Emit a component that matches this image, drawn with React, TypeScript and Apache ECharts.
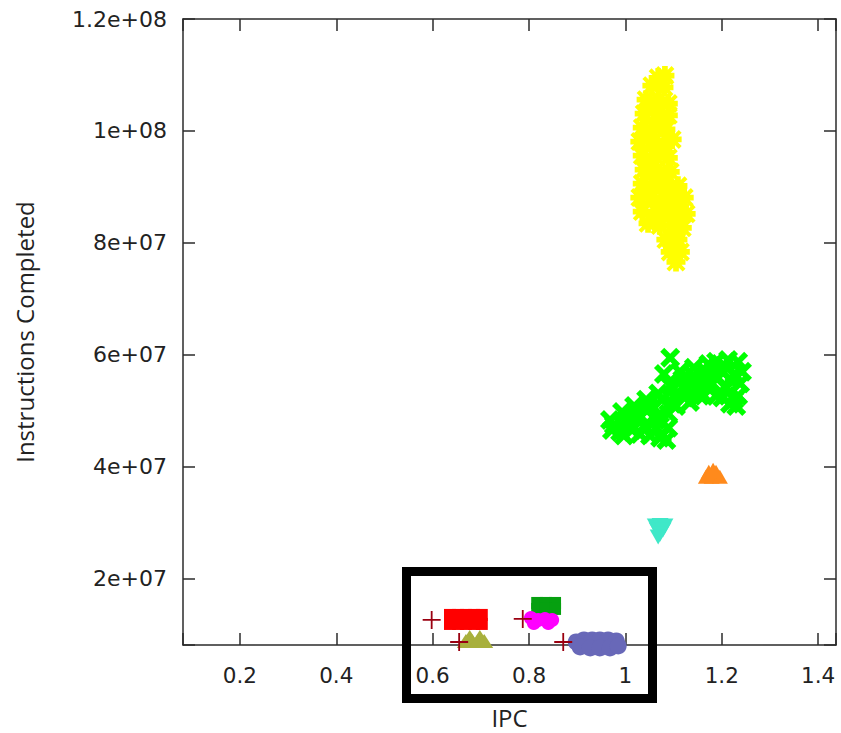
import { useEffect, useRef } from "react";
import * as echarts from "echarts";

// Axis extents and tick labels
const xRange = [0.082, 1.437];
const yRange = [8.2e6, 1.2e8];
const xTicks = [0.2, 0.4, 0.6, 0.8, 1, 1.2, 1.4];
const xTickLabels = ["0.2", "0.4", "0.6", "0.8", "1", "1.2", "1.4"];
const yTicks = [2e7, 4e7, 6e7, 8e7, 1e8, 1.2e8];
const yTickLabels = ["2e+07", "4e+07", "6e+07", "8e+07", "1e+08", "1.2e+08"];

// IPC vs instructions completed, one list per workload
const yellowPts = [
  [1.068, 1.095e8], [1.082, 1.099e8], [1.055, 1.081e8], [1.08, 1.078e8],
  [1.043, 1.056e8], [1.068, 1.056e8], [1.089, 1.049e8], [1.051, 1.045e8],
  [1.039, 1.031e8], [1.064, 1.031e8], [1.089, 1.028e8], [1.076, 1.02e8],
  [1.035, 1.006e8], [1.06, 1.006e8], [1.084, 1.003e8], [1.047, 9.95e7],
  [1.03, 9.81e7], [1.055, 9.81e7], [1.08, 9.77e7], [1.097, 9.85e7], [1.072, 9.67e7],
  [1.035, 9.56e7], [1.06, 9.56e7], [1.089, 9.52e7], [1.047, 9.42e7],
  [1.039, 9.31e7], [1.064, 9.31e7], [1.093, 9.27e7], [1.076, 9.17e7],
  [1.035, 9.06e7], [1.06, 9.06e7], [1.084, 9.06e7], [1.109, 9.02e7],
  [1.047, 8.95e7], [1.093, 8.91e7],
  [1.03, 8.81e7], [1.055, 8.81e7], [1.08, 8.81e7], [1.105, 8.77e7], [1.122, 8.81e7],
  [1.072, 8.67e7],
  [1.035, 8.56e7], [1.064, 8.56e7], [1.089, 8.56e7], [1.113, 8.56e7], [1.126, 8.52e7],
  [1.101, 8.45e7],
  [1.047, 8.35e7], [1.072, 8.31e7], [1.097, 8.31e7], [1.118, 8.27e7],
  [1.105, 8.17e7], [1.084, 8.06e7], [1.109, 8.06e7], [1.101, 7.95e7],
  [1.093, 7.84e7], [1.114, 7.84e7], [1.105, 7.66e7],
];

const greenPts = [
  [0.976, 4.75e7], [1.001, 4.84e7], [1.026, 4.95e7], [1.051, 5.06e7],
  [0.989, 4.63e7], [1.014, 4.66e7], [1.039, 4.73e7], [1.064, 4.84e7], [1.089, 4.95e7],
  [1.051, 4.56e7], [1.076, 4.59e7], [1.089, 4.7e7], [1.072, 4.52e7],
  [1.076, 5.2e7], [1.101, 5.27e7], [1.126, 5.38e7], [1.105, 5.09e7], [1.134, 5.16e7],
  [1.155, 5.27e7], [1.118, 5.56e7], [1.142, 5.63e7], [1.167, 5.7e7], [1.151, 5.45e7],
  [1.18, 5.49e7], [1.093, 5.95e7], [1.08, 5.66e7], [1.163, 5.27e7],
  [1.188, 5.88e7], [1.213, 5.91e7], [1.234, 5.88e7], [1.201, 5.7e7], [1.226, 5.66e7],
  [1.238, 5.49e7], [1.209, 5.41e7], [1.188, 5.27e7], [1.226, 5.2e7], [1.217, 5.13e7],
  [1.03, 4.88e7], [1.01, 4.77e7], [1.064, 4.7e7], [1.072, 4.95e7], [1.097, 5.13e7],
  [1.122, 5.24e7], [1.147, 5.38e7], [1.167, 5.49e7], [1.192, 5.59e7], [1.217, 5.56e7],
  [1.242, 5.7e7], [1.205, 5.81e7], [1.172, 5.84e7], [1.142, 5.77e7], [1.113, 5.7e7],
  [1.093, 5.45e7], [1.068, 5.31e7], [1.043, 5.2e7], [1.018, 5.09e7], [0.993, 4.98e7],
  [0.968, 4.84e7], [0.972, 4.66e7], [0.997, 4.56e7], [1.03, 4.59e7], [1.085, 4.48e7],
  [1.134, 5.56e7], [1.201, 5.24e7], [1.234, 5.27e7], [1.23, 5.09e7],
];

const orangePts = [
  [1.167, 3.823e7], [1.179, 3.823e7], [1.196, 3.823e7],
  [1.173, 3.912e7], [1.188, 3.912e7], [1.182, 3.948e7],
];

const cyanPts = [
  [1.062, 2.947e7], [1.072, 2.955e7], [1.082, 2.947e7], [1.066, 2.876e7],
  [1.078, 2.876e7], [1.072, 2.8e7], [1.068, 2.751e7],
];

const redPts = [
  [0.636, 1.357e7], [0.653, 1.357e7], [0.669, 1.357e7], [0.686, 1.357e7], [0.702, 1.357e7],
  [0.636, 1.196e7], [0.653, 1.196e7], [0.669, 1.196e7], [0.686, 1.196e7], [0.702, 1.196e7],
  [0.644, 1.285e7], [0.677, 1.267e7], [0.694, 1.267e7],
];

const olivePts = [
  [0.669, 8.92e6], [0.682, 8.92e6], [0.694, 8.92e6], [0.707, 8.92e6],
  [0.677, 9.63e6], [0.698, 9.63e6],
];

const darkGreenPts = [
  [0.817, 1.571e7], [0.835, 1.571e7], [0.854, 1.571e7],
  [0.817, 1.464e7], [0.835, 1.464e7], [0.854, 1.464e7],
];

const magentaPts = [
  [0.804, 1.303e7], [0.819, 1.267e7], [0.833, 1.285e7], [0.848, 1.267e7],
  [0.81, 1.214e7], [0.84, 1.214e7],
];

const bluePts = [
  [0.898, 8.74e6], [0.914, 9.1e6], [0.931, 9.1e6], [0.947, 9.1e6], [0.964, 9.1e6],
  [0.981, 8.92e6], [0.906, 7.85e6], [0.927, 7.67e6], [0.947, 7.67e6], [0.968, 7.67e6],
  [0.985, 8.02e6],
];

const startPts = [
  [0.598, 1.267e7], [0.655, 8.74e6], [0.787, 1.285e7], [0.871, 8.74e6],
];

// Point glyphs
const PLUS = "path://M0,9H20V11H0Z M9,0H11V20H9Z";
const CROSS = "path://M0,2L2,0L5,3L8,0L10,2L7,5L10,8L8,10L5,7L2,10L0,8L3,5Z";
const STAR =
  "path://M3.5,0L6.5,0L6.5,3.5L10,3.5L10,6.5L6.5,6.5L6.5,10L3.5,10L3.5,6.5L0,6.5L0,3.5L3.5,3.5Z " +
  "M0,1.5L1.5,0L5,3.5L8.5,0L10,1.5L6.5,5L10,8.5L8.5,10L5,6.5L1.5,10L0,8.5L3.5,5Z";

const AXIS_COLOR = "#2b2b2b";
const TEXT_COLOR = "#222";

function tickLabel(v: number, ticks: number[], labels: string[]) {
  for (let i = 0; i < ticks.length; i++) {
    if (Math.abs(v - ticks[i]) < Math.abs(ticks[i]) * 1e-6 + 1e-9) return labels[i];
  }
  return "";
}

export default function App() {
  const ref = useRef<HTMLDivElement>(null);

  useEffect(() => {
    if (!ref.current) return;
    const chart = echarts.init(ref.current, undefined, { renderer: "svg" });

    const line = { lineStyle: { color: AXIS_COLOR, width: 1.5 } };
    const tick = { show: true, inside: true, length: 12, lineStyle: { color: AXIS_COLOR, width: 1.5 } };

    const scatter = (
      name: string,
      data: number[][],
      color: string,
      symbol: string,
      symbolSize: number | number[],
      extra: Record<string, unknown> = {}
    ) => ({
      type: "scatter",
      name,
      data,
      symbol,
      symbolSize,
      clip: false,
      itemStyle: { color, opacity: 1 },
      emphasis: { disabled: true },
      ...extra,
    });

    chart.setOption({
      animation: false,
      backgroundColor: "#ffffff",
      grid: { left: 183, right: 5, top: 19, bottom: 88, containLabel: false, outerBoundsMode: "none" },
      xAxis: [
        {
          type: "value",
          position: "bottom",
          min: xRange[0],
          max: xRange[1],
          splitNumber: 7,
          minInterval: 0.2,
          maxInterval: 0.2,
          axisLine: { show: true, onZero: false, ...line },
          axisTick: tick,
          splitLine: { show: false },
          axisLabel: {
            margin: 19,
            fontFamily: "DejaVu Sans",
            fontSize: 21.5,
            color: TEXT_COLOR,
            formatter: (v: number) => tickLabel(v, xTicks, xTickLabels),
          },
          name: "IPC",
          nameLocation: "middle",
          nameGap: 60,
          nameTextStyle: { fontFamily: "Open Sans", fontSize: 24, color: TEXT_COLOR },
        },
        {
          type: "value",
          position: "top",
          min: xRange[0],
          max: xRange[1],
          splitNumber: 7,
          minInterval: 0.2,
          maxInterval: 0.2,
          axisLine: { show: true, onZero: false, ...line },
          axisTick: tick,
          splitLine: { show: false },
          axisLabel: { show: false },
        },
      ],
      yAxis: [
        {
          type: "value",
          position: "left",
          min: yRange[0],
          max: yRange[1],
          splitNumber: 7,
          minInterval: 2e7,
          maxInterval: 2e7,
          axisLine: { show: true, onZero: false, ...line },
          axisTick: tick,
          splitLine: { show: false },
          axisLabel: {
            margin: 16,
            fontFamily: "DejaVu Sans",
            fontSize: 22,
            color: TEXT_COLOR,
            formatter: (v: number) => tickLabel(v, yTicks, yTickLabels),
          },
          name: "Instructions Completed",
          nameLocation: "middle",
          nameGap: 147,
          nameTextStyle: { fontFamily: "Open Sans", fontSize: 24, color: TEXT_COLOR },
        },
        {
          type: "value",
          position: "right",
          min: yRange[0],
          max: yRange[1],
          splitNumber: 7,
          minInterval: 2e7,
          maxInterval: 2e7,
          axisLine: { show: true, onZero: false, ...line },
          axisTick: tick,
          splitLine: { show: false },
          axisLabel: { show: false },
        },
      ],
      series: [
        scatter("yellow", yellowPts, "#ffff00", STAR, 19),
        scatter("green", greenPts, "#00ff00", CROSS, 20),
        scatter("orange", orangePts, "#ff8a1c", "triangle", [16, 14]),
        scatter("cyan", cyanPts, "#3fe8c8", "triangle", [17, 15], { symbolRotate: 180 }),
        scatter("olive", olivePts, "#a8b03c", "triangle", [18, 14]),
        scatter("red", redPts, "#ff0000", "rect", 12),
        scatter("darkgreen", darkGreenPts, "#06a010", "rect", 12),
        scatter("magenta", magentaPts, "#ff00ff", "circle", 14),
        scatter("blue", bluePts, "#6868b8", "circle", 17),
        scatter("start", startPts, "#9a0010", PLUS, 18),
      ],
      graphic: [
        {
          type: "rect",
          z: 100,
          shape: { x: 406.5, y: 571.5, width: 246, height: 127 },
          style: { fill: "none", stroke: "#000", lineWidth: 9 },
        },
      ],
    });

    return () => chart.dispose();
  }, []);

  return (
    <div
      ref={ref}
      style={{ position: "absolute", left: 0, top: 0, width: 841, height: 733, background: "#fff" }}
    />
  );
}
